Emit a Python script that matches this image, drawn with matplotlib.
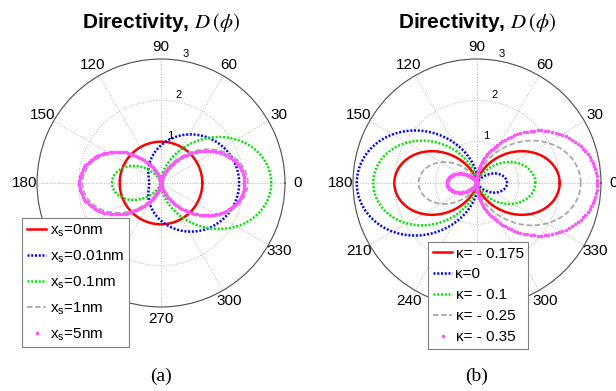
import numpy as np
import matplotlib
matplotlib.use("Agg")
import matplotlib.pyplot as plt
from matplotlib.lines import Line2D

plt.rcParams["font.family"] = ["Liberation Sans", "DejaVu Sans"]
plt.rcParams["mathtext.fontset"] = "stix"

# D(phi) = (a + b cos phi)^2 / (a^2 + b^2 / 2)  -- monopole weight a, dipole weight b
labels_a = [r"x$_\mathregular{s}$=0nm", r"x$_\mathregular{s}$=0.01nm", r"x$_\mathregular{s}$=0.1nm",
            r"x$_\mathregular{s}$=1nm", r"x$_\mathregular{s}$=5nm"]
mono_a = [1.0, 1.0, 1.0, 1.0, 1.0]
dip_a = [0.0, 0.44, 5.0, 40.0, 200.0]

labels_b = ["κ= - 0.175", "κ=0", "κ= - 0.1", "κ= - 0.25", "κ= - 0.35"]
mono_b = [0.0, 0.175, 0.075, -0.075, -0.175]
dip_b = [-0.525, -0.525, -0.525, -0.525, -0.525]

theta_ticks = [0, 30, 60, 90, 120, 150, 180, 210, 240, 270, 300, 330]
r_ticks = [1, 2, 3]
R_MAX = 3

styles = [
    dict(color="#ff0000", lw=1.8, ls="-"),
    dict(color="#0000ff", lw=1.8, ls=(0, (0.8, 0.7))),
    dict(color="#00e600", lw=1.8, ls=(0, (0.8, 0.7))),
    dict(color="#a8a8a8", lw=1.3, ls=(0, (3, 1.5))),
    dict(color="#ff55ff", lw=0, ls="none", marker=".", ms=3.2),
]

phi = np.linspace(0, 2 * np.pi, 221)


def directivity(a, b):
    return (a + b * np.cos(phi)) ** 2 / (a ** 2 + b ** 2 / 2)


def setup(ax):
    ax.set_rlim(0, R_MAX)
    ax.set_thetagrids(theta_ticks, [""] * len(theta_ticks))
    ax.set_rgrids(r_ticks, [""] * len(r_ticks))
    ax.tick_params(length=0)
    ax.grid(True, color="#b4b4b4", lw=0.7, ls=":")
    ax.spines["polar"].set_color("#505050")
    ax.spines["polar"].set_linewidth(0.8)
    # angle labels sit just outside the rim, centred
    for t in theta_ticks:
        ax.text(np.deg2rad(t), R_MAX * 1.1, str(t), fontsize=11, ha="center", va="center")
    for r in r_ticks:
        ax.text(np.deg2rad(79), r + 0.17, str(r), fontsize=8, ha="center", va="center")


fig = plt.figure(figsize=(6.16, 3.91), dpi=100)
W, H = 616, 391
R = 124
panels = [
    (161, labels_a, mono_a, dip_a, (22, 218), 0.65, "(a)"),
    (477, labels_b, mono_b, dip_b, (428, 242), 0.45, "(b)"),
]

for cx, labels, mono, dip, lpos, lspace, cap in panels:
    cy = 183
    ax = fig.add_axes([(cx - R) / W, (H - cy - R) / H, 2 * R / W, 2 * R / H], projection="polar")
    setup(ax)
    handles = []
    for lab, a, b, st in zip(labels, mono, dip, styles):
        ax.plot(phi, directivity(a, b), **st, zorder=3)
        handles.append(Line2D([], [], label=lab, **st))
    leg = fig.legend(handles=handles, loc="upper left",
                     bbox_to_anchor=(lpos[0] / W, 1 - lpos[1] / H),
                     fontsize=11, frameon=True, fancybox=False, borderaxespad=0,
                     handlelength=1.3, handletextpad=0.2, borderpad=0.3,
                     labelspacing=lspace, framealpha=1)
    leg.get_frame().set_edgecolor("#808080")
    leg.get_frame().set_linewidth(0.8)
    fig.text(cx / W, 1 - 22 / H, r"Directivity, $D\,(\phi)$", ha="center", va="center",
             fontsize=15, fontweight="bold")
    fig.text(cx / W, 1 - 376 / H, cap, ha="center", va="center", fontsize=14,
             family="Liberation Serif")

fig.savefig("out.png", dpi=100)
